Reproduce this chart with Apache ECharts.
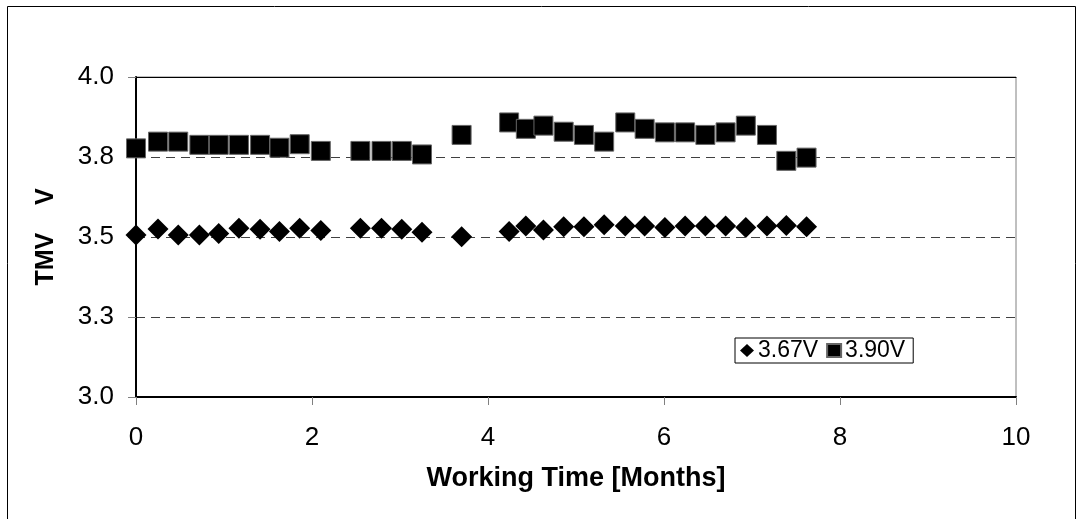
<!DOCTYPE html>
<html>
<head>
<meta charset="utf-8">
<title>TMV vs Working Time</title>
<script src="https://cdn.jsdelivr.net/npm/echarts@6/dist/echarts.min.js"></script>
<style>
  html, body { margin: 0; padding: 0; background: #fff; }
  #chart { width: 1080px; height: 519px; }
</style>
</head>
<body>
<div id="chart"></div>
<script>
// Working time of each measurement, in months
const months = [0, 0.25, 0.48, 0.72, 0.94, 1.17, 1.41, 1.63, 1.86, 2.10, 2.55, 2.79, 3.02, 3.25, 3.70,
  4.24, 4.43, 4.63, 4.86, 5.09, 5.32, 5.56, 5.78, 6.01, 6.24, 6.47, 6.70, 6.93, 7.17, 7.39, 7.62];

// TMV readings (V) for the two charge levels
const tmv367 = [3.506, 3.525, 3.506, 3.506, 3.511, 3.527, 3.524, 3.517, 3.527, 3.520, 3.527, 3.527, 3.524, 3.515, 3.501,
  3.517, 3.534, 3.522, 3.532, 3.532, 3.538, 3.534, 3.534, 3.530, 3.534, 3.534, 3.534, 3.530, 3.534, 3.536, 3.532];
const tmv390 = [3.777, 3.798, 3.798, 3.788, 3.788, 3.788, 3.788, 3.779, 3.790, 3.769, 3.769, 3.769, 3.769, 3.758, 3.819,
  3.858, 3.838, 3.848, 3.829, 3.819, 3.798, 3.858, 3.838, 3.827, 3.827, 3.819, 3.827, 3.848, 3.819, 3.738, 3.748];

const seriesNames = ['3.67V', '3.90V'];

// Axis ticks: y every 0.25 V, shown with one decimal
const yTicks = [3.0, 3.25, 3.5, 3.75, 4.0];
const yTickLabels = ['3.0', '3.3', '3.5', '3.8', '4.0'];
const xTicks = [0, 2, 4, 6, 8, 10];

const FONT = '"Liberation Sans", Arial, sans-serif';

const pairs = (xs, ys) => xs.map((x, i) => [x, ys[i]]);

const chart = echarts.init(document.getElementById('chart'), null, { renderer: 'canvas' });

chart.setOption({
  animation: false,
  backgroundColor: '#fff',
  textStyle: { fontFamily: FONT },
  graphic: [{
    type: 'rect',
    shape: { x: 7.5, y: 6.5, width: 1068, height: 530 },
    style: { fill: 'none', stroke: '#000', lineWidth: 1 },
    silent: true
  }],
  grid: {
    left: 136, right: 64, top: 77, bottom: 122,
    show: true,
    borderColor: '#808080',
    borderWidth: 1,
    containLabel: false
  },
  legend: {
    data: [
      { name: seriesNames[0], icon: 'diamond' },
      { name: seriesNames[1], icon: 'rect' }
    ],
    left: 735, top: 338,
    orient: 'horizontal',
    backgroundColor: '#fff',
    borderColor: '#000',
    borderWidth: 1,
    borderRadius: 0,
    padding: [1, 8, 1, 5],
    itemGap: 8,
    itemWidth: 14,
    itemHeight: 13,
    textStyle: { fontFamily: FONT, fontSize: 23, color: '#000', padding: [0, 0, 0, -1] }
  },
  xAxis: [{
    type: 'value',
    min: 0, max: 10, interval: 2,
    name: 'Working Time [Months]',
    nameLocation: 'middle',
    nameGap: 68,
    nameTextStyle: { fontFamily: FONT, fontSize: 27, fontWeight: 'bold', color: '#000' },
    axisLine: { show: true, onZero: false, lineStyle: { color: '#000', width: 2 } },
    axisTick: { show: true, inside: false, length: 8, lineStyle: { color: '#808080', width: 1 } },
    axisLabel: {
      margin: 28, fontSize: 26, color: '#000', fontFamily: FONT,
      formatter: v => xTicks.includes(v) ? String(v) : ''
    },
    splitLine: { show: false }
  }, {
    // top edge of the plot box
    type: 'value', position: 'top',
    min: 0, max: 10, interval: 2,
    axisLine: { show: true, lineStyle: { color: '#000', width: 1 } },
    axisTick: { show: false },
    axisLabel: { show: false },
    splitLine: { show: false }
  }],
  yAxis: {
    type: 'value',
    min: 3, max: 4, interval: 0.25,
    name: 'TMV    V',
    nameLocation: 'middle',
    nameGap: 77,
    nameRotate: 90,
    nameTextStyle: { fontFamily: FONT, fontSize: 25, fontWeight: 'bold', color: '#000' },
    axisLine: { show: true, onZero: false, lineStyle: { color: '#000', width: 2 } },
    axisTick: { show: true, inside: false, length: 8, lineStyle: { color: '#808080', width: 1 } },
    axisLabel: {
      margin: 22, fontSize: 26, color: '#000', fontFamily: FONT,
      formatter: v => {
        const i = yTicks.findIndex(t => Math.abs(t - v) < 1e-9);
        return i >= 0 ? yTickLabels[i] : '';
      }
    },
    splitLine: { show: true, lineStyle: { color: '#404040', width: 1, type: [9, 6] } }
  },
  series: [{
    name: seriesNames[0],
    type: 'scatter',
    symbol: 'diamond',
    symbolSize: 21,
    itemStyle: { color: '#000', opacity: 1 },
    data: pairs(months, tmv367),
    z: 3
  }, {
    name: seriesNames[1],
    type: 'scatter',
    symbol: 'rect',
    symbolSize: 19,
    itemStyle: { color: '#000', opacity: 1, borderColor: '#666', borderWidth: 1 },
    data: pairs(months, tmv390),
    z: 3
  }]
});
</script>
</body>
</html>
